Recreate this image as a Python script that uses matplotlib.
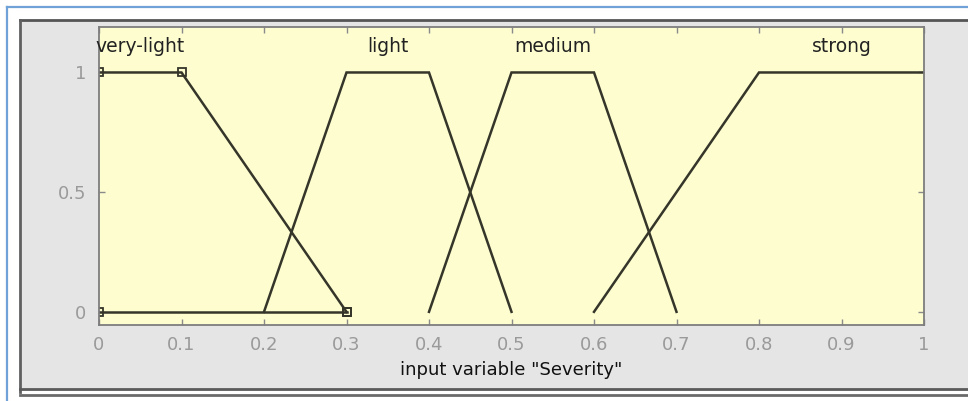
import matplotlib.pyplot as plt
from matplotlib.lines import Line2D
from matplotlib.patches import Rectangle

# trapezoidal membership functions for input "Severity"
mf_names = ["very-light", "light", "medium", "strong"]
mf_params = [
    [0.0, 0.0, 0.1, 0.3],
    [0.2, 0.3, 0.4, 0.5],
    [0.4, 0.5, 0.6, 0.7],
    [0.6, 0.8, 1.0, 1.0],
]
selected = 0
x_ticks = [0, 0.1, 0.2, 0.3, 0.4, 0.5, 0.6, 0.7, 0.8, 0.9, 1]
y_ticks = [0, 0.5, 1]
xlabel = 'input variable "Severity"'

W, H = 968, 401
fig = plt.figure(figsize=(W / 100, H / 100), dpi=100)
fig.patch.set_facecolor("white")

def px(x, y):
    return x / W, 1 - y / H

# grey window panel with dark edges
x0, y0 = px(20, 389)
x1, y1 = px(968, 20)
fig.add_artist(Rectangle((x0, y0), x1 - x0, y1 - y0, transform=fig.transFigure,
                         facecolor="#e5e5e5", edgecolor="none", zorder=0))
for xs, ys, c, lw in [
    ((20, 968), (20, 20), "#555555", 2.0),
    ((20, 20), (20, 392), "#606060", 2.0),
    ((20, 968), (389, 389), "#5a5a5a", 2.0),
    ((20, 968), (395, 395), "#6a6a6a", 2.0),
]:
    p = [px(a, b) for a, b in zip(xs, ys)]
    fig.add_artist(Line2D([p[0][0], p[1][0]], [p[0][1], p[1][1]],
                          transform=fig.transFigure, color=c, lw=lw))

# blue outer frame
for xs, ys in [((7, 968), (7, 7)), ((7, 7), (7, 401))]:
    p = [px(a, b) for a, b in zip(xs, ys)]
    fig.add_artist(Line2D([p[0][0], p[1][0]], [p[0][1], p[1][1]],
                          transform=fig.transFigure, color="#6fa3d8", lw=1.6))

ax = fig.add_axes([99 / W, 1 - 325 / H, (924 - 99) / W, (325 - 27) / H])
ax.set_facecolor("#fdfdd0")
ax.set_xlim(0, 1)
ax.set_ylim(-0.055, 1.19)

line_col = "#35352a"
for i, (name, (a, b, c, d)) in enumerate(zip(mf_names, mf_params)):
    xs = [a, b, c, d]
    ys = [0, 1, 1, 0]
    if a == b:
        xs, ys = [b, c, d], [1, 1, 0]
    if c == d:
        xs, ys = [a, b, c], [0, 1, 1]
    ax.plot(xs, ys, color=line_col, lw=1.8, solid_joinstyle="miter")
    if i == selected:
        # selected function: vertex markers and baseline
        ax.plot(xs, ys, ls="none", marker="s", ms=6, mfc="none",
                mec=line_col, mew=1.3)
        ax.plot([a, d], [0, 0], color=line_col, lw=1.8, marker="s", ms=6,
                mfc="none", mec=line_col, mew=1.3)
    ax.text((b + c) / 2, 1.11, name, ha="center", va="center",
            fontsize=13.5, color="#222222")

ax.set_xticks(x_ticks)
ax.set_xticklabels([f"{t:g}" for t in x_ticks])
ax.set_yticks(y_ticks)
ax.set_yticklabels([f"{t:g}" for t in y_ticks])
ax.tick_params(direction="in", length=4, width=1, colors="#8a8a8a",
               labelsize=13, labelcolor="#9a9a9a", top=True, right=True)
ax.tick_params(axis="x", pad=8)
ax.tick_params(axis="y", pad=9)
for s in ax.spines.values():
    s.set_color("#7d7d7d")
    s.set_linewidth(1.3)
ax.set_xlabel(xlabel, fontsize=13, color="#111111", labelpad=5)

fig.savefig("out.png", dpi=100)
